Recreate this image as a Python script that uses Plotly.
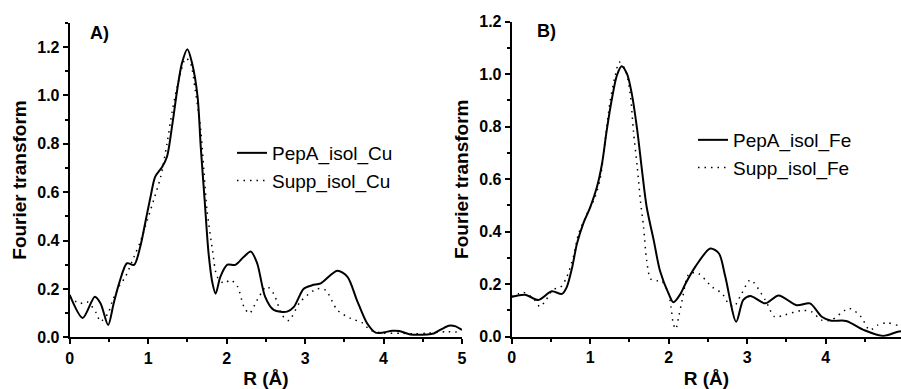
import plotly.graph_objects as go

# ---------------- data ----------------
cu_pepa_r = [0.0, 0.166, 0.32, 0.394, 0.49, 0.56, 0.63, 0.73, 0.82, 0.90, 0.97, 1.03, 1.09, 1.18, 1.24,
             1.31, 1.37, 1.43, 1.50, 1.56, 1.63, 1.67, 1.72, 1.77, 1.82, 1.86, 1.92, 2.01, 2.11, 2.22,
             2.31, 2.39, 2.49, 2.60, 2.77, 2.86, 2.98, 3.09, 3.20, 3.41, 3.54, 3.66, 3.79, 3.90, 4.00,
             4.11, 4.20, 4.34, 4.56, 4.64, 4.83, 4.92, 5.0]
cu_pepa_ft = [0.175, 0.08, 0.168, 0.14, 0.051, 0.14, 0.223, 0.306, 0.299, 0.375, 0.485, 0.58, 0.664, 0.705, 0.746,
              0.884, 1.022, 1.132, 1.19, 1.132, 0.994, 0.788, 0.567, 0.347, 0.223, 0.18, 0.25, 0.30, 0.299, 0.333,
              0.354, 0.305, 0.168, 0.113, 0.106, 0.127, 0.20, 0.215, 0.223, 0.275, 0.25, 0.154, 0.058, 0.019, 0.02,
              0.027, 0.026, 0.012, 0.012, 0.016, 0.048, 0.045, 0.03]

cu_supp_r = [0.0, 0.13, 0.22, 0.34, 0.39, 0.49, 0.54, 0.63, 0.71, 0.82, 0.90, 0.99, 1.07, 1.16, 1.24,
             1.31, 1.39, 1.48, 1.54, 1.60, 1.67, 1.71, 1.75, 1.82, 1.88, 1.97, 2.05, 2.14, 2.22, 2.29,
             2.39, 2.51, 2.60, 2.71, 2.79, 2.94, 3.15, 3.26, 3.41, 3.58, 3.73, 3.83, 4.0, 4.22, 4.39,
             4.56, 4.81, 5.0]
cu_supp_ft = [0.166, 0.14, 0.147, 0.10, 0.065, 0.10, 0.147, 0.21, 0.25, 0.333, 0.395, 0.485, 0.567, 0.664, 0.80,
              0.94, 1.063, 1.153, 1.132, 1.022, 0.857, 0.69, 0.526, 0.36, 0.25, 0.223, 0.237, 0.209, 0.127, 0.099,
              0.154, 0.21, 0.18, 0.09, 0.069, 0.147, 0.20, 0.195, 0.113, 0.078, 0.06, 0.03, 0.017, 0.017, 0.014,
              0.017, 0.023, 0.02]

fe_pepa_r = [0.0, 0.17, 0.34, 0.51, 0.64, 0.70, 0.77, 0.83, 0.91, 1.0, 1.085, 1.15, 1.21, 1.28, 1.34,
             1.40, 1.47, 1.53, 1.60, 1.66, 1.72, 1.81, 1.89, 2.0, 2.06, 2.15, 2.21, 2.34, 2.53, 2.64,
             2.72, 2.86, 2.95, 3.04, 3.23, 3.40, 3.63, 3.80, 3.95, 4.07, 4.26, 4.49, 4.73, 4.92, 5.0]
fe_pepa_ft = [0.152, 0.16, 0.14, 0.173, 0.163, 0.188, 0.264, 0.353, 0.43, 0.493, 0.569, 0.658, 0.785, 0.912, 0.995,
              1.03, 1.0, 0.925, 0.785, 0.633, 0.493, 0.366, 0.25, 0.163, 0.131, 0.163, 0.20, 0.267, 0.336, 0.317,
              0.23, 0.057, 0.14, 0.155, 0.127, 0.157, 0.12, 0.127, 0.076, 0.061, 0.06, 0.025, 0.003, 0.019, 0.022]

fe_supp_r = [0.0, 0.15, 0.23, 0.30, 0.36, 0.43, 0.53, 0.62, 0.70, 0.79, 0.85, 0.94, 1.0, 1.06, 1.13,
             1.19, 1.255, 1.32, 1.37, 1.45, 1.51, 1.55, 1.60, 1.64, 1.68, 1.72, 1.77, 1.85, 1.91, 2.0,
             2.03, 2.06, 2.09, 2.13, 2.17, 2.26, 2.38, 2.55, 2.68, 2.76, 2.83, 2.93, 3.04, 3.23, 3.35,
             3.48, 3.69, 3.82, 3.95, 4.07, 4.30, 4.45, 4.56, 4.66, 4.78, 4.92, 5.0]
fe_supp_ft = [0.152, 0.169, 0.156, 0.137, 0.114, 0.137, 0.18, 0.188, 0.226, 0.31, 0.39, 0.455, 0.493, 0.53, 0.607,
              0.747, 0.90, 0.995, 1.046, 1.014, 0.925, 0.785, 0.645, 0.518, 0.417, 0.29, 0.22, 0.213, 0.213, 0.163,
              0.112, 0.048, 0.029, 0.08, 0.137, 0.24, 0.24, 0.19, 0.165, 0.127, 0.115, 0.165, 0.216, 0.14, 0.076,
              0.083, 0.10, 0.095, 0.063, 0.063, 0.108, 0.076, 0.025, 0.044, 0.053, 0.044, 0.05]

x_tickvals = [0, 1, 2, 3, 4, 5]
x_ticktext = ["0", "1", "2", "3", "4", "5"]
y_tickvals = [0.0, 0.2, 0.4, 0.6, 0.8, 1.0, 1.2]
y_ticktext = ["0.0", "0.2", "0.4", "0.6", "0.8", "1.0", "1.2"]

# ---------------- figure ----------------
FONT = "Liberation Sans, Arial, Helvetica, sans-serif"
W, H = 901, 389

def px_x(p):
    return p / W

def px_y(p):
    return 1 - p / H

fig = go.Figure()

solid = dict(color="black", width=2, shape="spline", smoothing=0.8)
dotted = dict(color="black", width=1.5, dash="1.5px,5px", shape="spline", smoothing=0.8)

fig.add_trace(go.Scatter(x=cu_pepa_r, y=cu_pepa_ft, mode="lines", name="PepA_isol_Cu",
                         line=solid, xaxis="x", yaxis="y", legend="legend"))
fig.add_trace(go.Scatter(x=cu_supp_r, y=cu_supp_ft, mode="lines", name="Supp_isol_Cu",
                         line=dotted, xaxis="x", yaxis="y", legend="legend"))
fig.add_trace(go.Scatter(x=fe_pepa_r, y=fe_pepa_ft, mode="lines", name="PepA_isol_Fe",
                         line=solid, xaxis="x2", yaxis="y2", legend="legend2"))
fig.add_trace(go.Scatter(x=fe_supp_r, y=fe_supp_ft, mode="lines", name="Supp_isol_Fe",
                         line=dotted, xaxis="x2", yaxis="y2", legend="legend2"))

tickfont = dict(family=FONT, size=16, color="black", weight="bold")
titlefont = dict(family=FONT, size=19, color="black", weight="bold")

def bold(labels):
    return ["<b>%s</b>" % t for t in labels]

def xaxis(domain, rng, anchor):
    return dict(domain=domain, range=rng, anchor=anchor, showline=True, linecolor="black", linewidth=2,
                showgrid=False, zeroline=False, ticks="outside", ticklen=5, tickwidth=2, tickcolor="black",
                tickvals=x_tickvals, ticktext=bold(x_ticktext), tickfont=tickfont, automargin=False,
                minor=dict(dtick=0.5, tick0=0, ticks="outside", ticklen=3, tickwidth=1.5, tickcolor="black"),
                title=dict(text="R (Å)", font=titlefont, standoff=8))

def yaxis(domain, rng, anchor):
    return dict(domain=domain, range=rng, anchor=anchor, showline=True, linecolor="black", linewidth=2,
                showgrid=False, zeroline=False, ticks="outside", ticklen=5, tickwidth=2, tickcolor="black",
                tickvals=y_tickvals, ticktext=bold(y_ticktext), tickfont=tickfont, automargin=False,
                minor=dict(dtick=0.1, tick0=0, ticks="outside", ticklen=3, tickwidth=1.5, tickcolor="black"),
                title=dict(text="Fourier transform", font=titlefont, standoff=6))

fig.update_layout(
    width=W, height=H,
    margin=dict(l=0, r=0, t=0, b=0, autoexpand=False),
    paper_bgcolor="white", plot_bgcolor="white",
    font=dict(family=FONT, color="black"),
    xaxis=xaxis([px_x(69.7), px_x(462)], [0, 5], "y"),
    yaxis=yaxis([px_y(337.3), px_y(22.7)], [0, 1.3], "x"),
    xaxis2=xaxis([px_x(511.7), 1.0], [0, (W - 511.7) / 78.5], "y2"),
    yaxis2=yaxis([px_y(336.7), px_y(21.7)], [0, 1.2], "x2"),
    legend=dict(x=px_x(232), y=px_y(134), xanchor="left", yanchor="top",
                font=dict(family=FONT, size=19, color="black"), bgcolor="rgba(0,0,0,0)",
                borderwidth=0, tracegroupgap=0),
    legend2=dict(x=px_x(693), y=px_y(121), xanchor="left", yanchor="top",
                 font=dict(family=FONT, size=19, color="black"), bgcolor="rgba(0,0,0,0)",
                 borderwidth=0, tracegroupgap=0),
    showlegend=True,
    annotations=[
        dict(text="A)", x=px_x(88), y=px_y(33), xref="paper", yref="paper", xanchor="left",
             yanchor="middle", showarrow=False, font=dict(family=FONT, size=18, color="black", weight="bold")),
        dict(text="B)", x=px_x(535), y=px_y(31), xref="paper", yref="paper", xanchor="left",
             yanchor="middle", showarrow=False, font=dict(family=FONT, size=18, color="black", weight="bold")),
    ],
)

fig.write_html("out.html")
